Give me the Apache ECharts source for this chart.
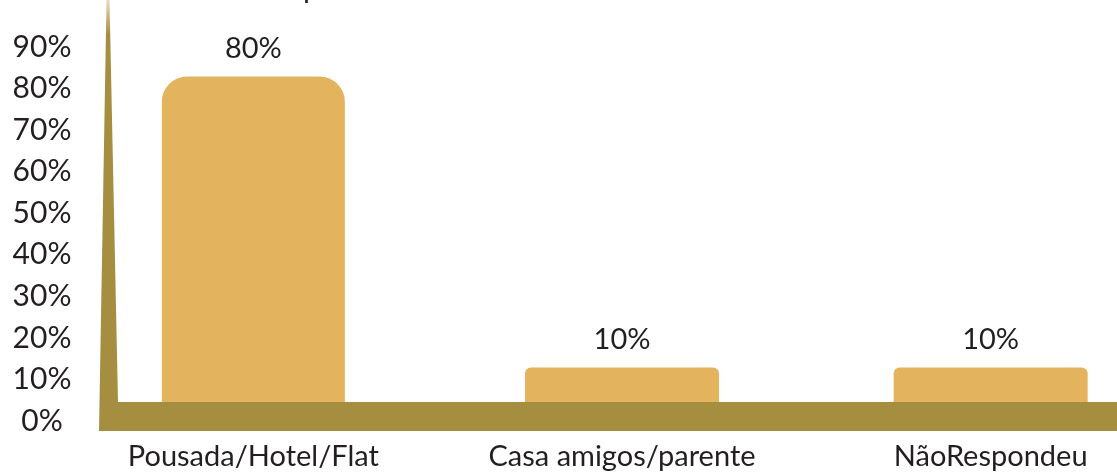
<!DOCTYPE html>
<html>
<head>
<meta charset="utf-8">
<style>
html,body{margin:0;padding:0;background:#fff;}
#c{width:1117px;height:473px;}
</style>
<script src="https://cdn.jsdelivr.net/npm/echarts@6/dist/echarts.min.js"></script>
</head>
<body>
<div id="c"></div>
<script>
const categories = ['Pousada/Hotel/Flat', 'Casa amigos/parente', 'NãoRespondeu'];
const values = [80, 10, 10];
const tickValues = [0, 10, 20, 30, 40, 50, 60, 70, 80, 90];

const FONT = 'Lato';
const TXT = '#231f20';
const BAR = '#e4b35e';
const FLOOR = '#a68e40';

const chart = echarts.init(document.getElementById('c'), null, {renderer: 'canvas'});

function only(idxs) {
  return values.map((v, i) => idxs.includes(i) ? v : '-');
}

const labelCfg = {
  show: true, position: 'top', distance: 13,
  formatter: p => p.value + '%',
  fontFamily: FONT, fontSize: 29, color: TXT
};

const barGrid = {left: 69, right: -58, top: 35, bottom: 64, containLabel: false, outerBoundsMode: 'none'};

chart.setOption({
  animation: false,
  grid: [
    barGrid,
    {left: 69, right: -58, top: 47, bottom: 52, containLabel: false, outerBoundsMode: 'none'},
    Object.assign({}, barGrid)
  ],
  xAxis: [
    {type: 'category', gridIndex: 0, data: categories,
     axisLine: {show: false}, axisTick: {show: false},
     axisLabel: {fontFamily: FONT, fontSize: 29, color: TXT, margin: 33, interval: 0, hideOverlap: false}},
    {type: 'category', gridIndex: 1, data: categories, show: false},
    {type: 'category', gridIndex: 2, data: categories, show: false}
  ],
  yAxis: [
    {type: 'value', gridIndex: 0, min: 0, max: 90, interval: 10, show: false},
    {type: 'value', gridIndex: 1, min: tickValues[0], max: tickValues[tickValues.length - 1], interval: 10,
     splitLine: {show: false}, axisLine: {show: false}, axisTick: {show: false},
     axisLabel: {formatter: '{value}%', align: 'center', margin: 27,
                 fontFamily: FONT, fontSize: 30, color: TXT}},
    {type: 'value', gridIndex: 2, min: 0, max: 90, interval: 10, show: false}
  ],
  series: [
    {type: 'bar', xAxisIndex: 2, yAxisIndex: 2, data: only([0]), barWidth: 183,
     itemStyle: {color: BAR, borderRadius: [25, 25, 0, 0]}, label: labelCfg, z: 2},
    {type: 'bar', xAxisIndex: 0, yAxisIndex: 0, data: only([1, 2]), barWidth: 194,
     itemStyle: {color: BAR, borderRadius: [6, 6, 0, 0]}, label: labelCfg, z: 2}
  ],
  graphic: [
    {type: 'polygon', z: 10,
     shape: {points: [[106.5, 0], [109.5, 0], [118, 402], [1117, 402], [1117, 431], [99, 431]]},
     style: {fill: new echarts.graphic.LinearGradient(0, 0, 0, 1, [
       {offset: 0, color: '#e6dcc0'}, {offset: 0.08, color: FLOOR}, {offset: 1, color: FLOOR}])}},
    {type: 'rect', z: 10, shape: {x: 118, y: 402, width: 999, height: 29}, style: {fill: FLOOR}},
    {type: 'text', z: 10, x: 303, y: -27,
     style: {text: 'p', fontFamily: FONT, fontSize: 30, fill: TXT}}
  ]
});
</script>
</body>
</html>
